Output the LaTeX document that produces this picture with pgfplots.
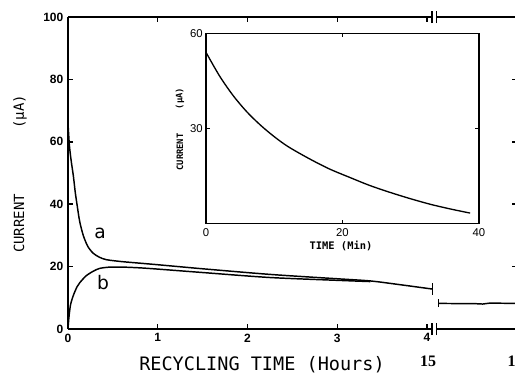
\documentclass[border=0pt]{standalone}
\usepackage{pgfplots}
\pgfplotsset{compat=1.18}
\usepackage{fontspec}
\setmainfont{Liberation Sans}
\newfontfamily\monofont{DejaVu Sans Mono}
\newfontfamily\seriffont{Liberation Serif}
\newfontfamily\dvsans{DejaVu Sans}

\begin{document}
\begin{tikzpicture}[x=0.75pt,y=0.75pt]
\useasboundingbox (0,0) rectangle (515,375);
\clip (0,0) rectangle (515,375);

% ---------------- main axis ----------------
\begin{axis}[
  at={(51pt,34.5pt)}, anchor=south west, scale only axis,
  width=336.56pt, height=234pt,
  xmin=0, xmax=5, ymin=0, ymax=100,
  xtick={0,1,2,3,4}, ytick={0,20,40,60,80,100},
  tick align=inside, major tick length=3.8pt,
  tick style={line width=1.1pt, black},
  separate axis lines,
  x axis line style={draw=none},
  y axis line style={line width=1.4pt},
  ticklabel style={font=\bfseries\fontsize{9}{9}\selectfont},
  /pgf/number format/assume math mode=true,
  clip=false,
]
% curve a
\addplot[black, line width=1.1pt, smooth, tension=0.45] coordinates {
  (0,66) (0.015,59) (0.035,54) (0.06,49) (0.08,44) (0.1,40) (0.13,34.5)
  (0.17,30) (0.22,26.5) (0.28,24.3) (0.35,23) (0.43,22.2) (0.6,21.6)
  (0.8,21.1) (1.0,20.6) (1.5,19.3) (2.25,17.5) (3.0,16.1) (3.37,15.4)
  (3.7,14.2) (4.06,12.8)
};
% curve b
\addplot[black, line width=1.1pt, smooth, tension=0.45] coordinates {
  (0,0) (0.005,2) (0.015,5) (0.03,8) (0.06,10.8) (0.1,13.5) (0.13,14.8)
  (0.2,17) (0.28,18.5) (0.35,19.4) (0.45,19.8) (0.6,19.85) (0.8,19.6)
  (1.0,19.2) (1.5,18.1) (2.25,16.5) (3.0,15.6) (3.37,15.2)
};
% segment after the break
\addplot[black, line width=1.1pt] coordinates {
  (4.13,8.2) (4.55,8.1) (4.62,8.0) (4.7,8.3) (5.0,8.2)
};
% end bars
\draw[line width=1.1pt] (axis cs:4.06,10.9) -- (axis cs:4.06,14.6);
\draw[line width=1.1pt] (axis cs:4.13,7.0) -- (axis cs:4.13,9.6);
% broken top and bottom axis lines
\draw[line width=1.4pt] (axis cs:0,0) -- (axis cs:4.055,0);
\draw[line width=1.4pt] (axis cs:4.105,0) -- (axis cs:5,0);
\draw[line width=1.1pt] (axis cs:4.055,-2) -- (axis cs:4.055,2);
\draw[line width=1.1pt] (axis cs:4.105,-2) -- (axis cs:4.105,2);
\draw[line width=1.4pt] (axis cs:0,100) -- (axis cs:4.055,100);
\draw[line width=1.4pt] (axis cs:4.105,100) -- (axis cs:5,100);
\draw[line width=1.1pt] (axis cs:4.055,98) -- (axis cs:4.055,102);
\draw[line width=1.1pt] (axis cs:4.105,98) -- (axis cs:4.105,102);
\end{axis}

% ---------------- inset ----------------
\begin{axis}[
  at={(154.5pt,113.6pt)}, anchor=south west, scale only axis,
  width=204.75pt, height=142.65pt,
  xmin=0, xmax=40, ymin=0, ymax=60,
  xtick={0,20,40}, ytick={30,60},
  tick align=inside, major tick length=3pt,
  tick style={line width=0.9pt, black},
  axis line style={line width=1pt},
  axis background/.style={fill=white},
  ticklabel style={font=\fontsize{8.5}{8.5}\selectfont},
  yticklabel style={xshift=1pt},
  /pgf/number format/assume math mode=true,
]
\addplot[black, line width=1pt, smooth, tension=0.5] coordinates {
  (0,54) (2,46.5) (4,40.3) (6,35.2) (8,31) (10,27.4) (12,24.3) (15,20.6)
  (18,17.3) (21,14.6) (24,12.0) (27,9.8) (30,7.8) (33,6.0) (36,4.5) (38.7,3.3)
};
\end{axis}

% ---------------- labels ----------------
\node[font=\monofont\fontsize{13.9}{14}\selectfont] at (262,10) {RECYCLING TIME (Hours)};
\node[font=\monofont\fontsize{10.5}{11}\selectfont, rotate=90] at (19,151.5) {CURRENT};
\node[font=\monofont\fontsize{10.5}{11}\selectfont, rotate=90] at (20,263) {(µA)};
\node[font=\monofont\bfseries\fontsize{7.8}{8}\selectfont] at (341,129) {TIME (Min)};
\node[font=\monofont\bfseries\fontsize{6.6}{7}\selectfont, rotate=90] at (180,223) {CURRENT};
\node[font=\monofont\bfseries\fontsize{6.6}{7}\selectfont, rotate=90] at (180,276.5) {(µA)};
\node[font=\dvsans\fontsize{14}{14}\selectfont] at (100,142) {a};
\node[font=\dvsans\fontsize{14}{14}\selectfont] at (103,92) {b};
\node[font=\seriffont\bfseries\fontsize{12}{12}\selectfont] at (428,14) {15};
\node[font=\seriffont\bfseries\fontsize{12}{12}\selectfont] at (511.5,14) {1};
\end{tikzpicture}
\end{document}
